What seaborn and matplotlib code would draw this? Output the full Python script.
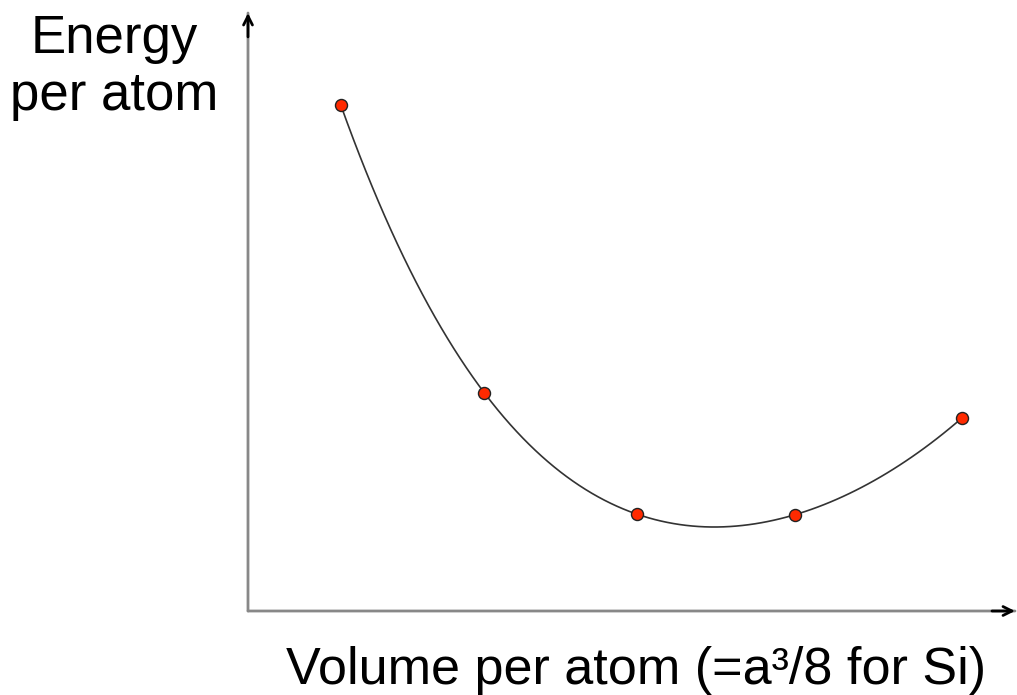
import matplotlib
matplotlib.use("Agg")
import matplotlib.pyplot as plt
import seaborn as sns
import numpy as np
import pandas as pd

# Data (arbitrary units)
volume = [12.1, 30.8, 50.7, 71.3, 93.1]
energy = [84.6, 36.5, 16.2, 16.1, 32.3]

sns.set_style("white")
plt.rcParams['font.family'] = ['Liberation Sans', 'DejaVu Sans']

fig = plt.figure(figsize=(10.17, 6.95), dpi=100)
L, R, B, T = 248/1017, 1015/1017, (695-611)/695, (695-13)/695
ax = fig.add_axes([L, B, R-L, T-B])
df = pd.DataFrame({"volume": volume, "energy": energy})

sns.regplot(data=df, x="volume", y="energy", order=4, ci=None, truncate=True,
            scatter=False, line_kws=dict(color="#333333", lw=1.2), ax=ax)
sns.scatterplot(data=df, x="volume", y="energy", color="#ff2a00", edgecolor="#222222",
                linewidth=1.0, s=75, zorder=5, ax=ax)

ax.set_xlim(0, 100)
ax.set_ylim(0, 100)
for s in ax.spines.values():
    s.set_visible(False)
ax.set_xticks([])
ax.set_yticks([])
ax.set_xlabel("")
ax.set_ylabel("")

# axes with arrows
ax.annotate("", xy=(1.0, 0.0), xytext=(0.0, 0.0), xycoords="axes fraction",
            arrowprops=dict(arrowstyle="-", color="#888888", lw=2.0, shrinkA=0, shrinkB=0))
ax.annotate("", xy=(0.0, 1.0), xytext=(0.0, 0.0), xycoords="axes fraction",
            arrowprops=dict(arrowstyle="-", color="#888888", lw=2.0, shrinkA=0, shrinkB=0))
ax.annotate("", xy=(1.0, 0.0), xytext=(0.97, 0.0), xycoords="axes fraction",
            arrowprops=dict(arrowstyle="->", color="black", lw=2.0, shrinkA=0, shrinkB=0,
                            mutation_scale=16))
ax.annotate("", xy=(0.0, 1.0), xytext=(0.0, 0.96), xycoords="axes fraction",
            arrowprops=dict(arrowstyle="->", color="black", lw=2.0, shrinkA=0, shrinkB=0,
                            mutation_scale=16))

fig.text(114/1017, 1-14/695, "Energy\nper atom", ha="center", va="top", fontsize=38,
         linespacing=1.17, color="black")
fig.text(636/1017, 1-684/695, "Volume per atom (=a\u00b3/8 for Si)", ha="center",
         va="baseline", fontsize=37.5, color="black")

fig.savefig("out.png", dpi=100)
